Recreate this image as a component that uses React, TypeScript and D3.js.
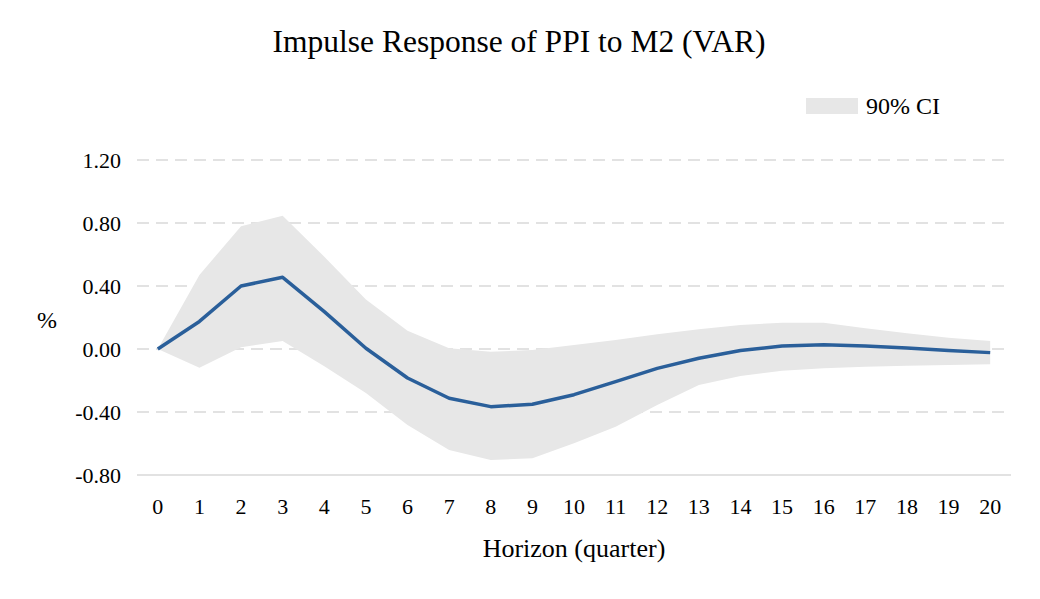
import React from "react";
import * as d3 from "d3";

// horizon 0..20 quarters
const horizons = d3.range(0, 21);
const response = [0.0, 0.175, 0.4, 0.455, 0.237, 0.005, -0.184, -0.313, -0.366, -0.351, -0.29, -0.207, -0.123, -0.059, -0.01, 0.019, 0.027, 0.019, 0.006, -0.01, -0.023];
const ciUpper = [0.0, 0.47, 0.78, 0.846, 0.586, 0.315, 0.116, 0.004, -0.017, -0.006, 0.025, 0.057, 0.093, 0.125, 0.152, 0.167, 0.167, 0.131, 0.1, 0.072, 0.051];
const ciLower = [0.0, -0.119, 0.011, 0.051, -0.11, -0.28, -0.483, -0.641, -0.705, -0.694, -0.599, -0.493, -0.356, -0.229, -0.171, -0.138, -0.123, -0.112, -0.106, -0.102, -0.097];
const yTicks = [-0.8, -0.4, 0, 0.4, 0.8, 1.2];

const W = 1040;
const H = 599;
const font = "'Liberation Serif', 'Times New Roman', serif";

export default function App() {
  const x = d3.scalePoint<number>().domain(horizons).range([137, 1011]).padding(0.5);
  const y = d3.scaleLinear().domain([-0.8, 1.2]).range([475, 160]);

  const band = d3
    .area<number>()
    .x((d) => x(d) as number)
    .y0((d) => y(ciLower[d]))
    .y1((d) => y(ciUpper[d]));

  const line = d3
    .line<number>()
    .x((d) => x(d) as number)
    .y((d) => y(response[d]));

  return (
    <svg width={W} height={H} style={{ position: "absolute", left: 0, top: 0, background: "#fff" }} fontFamily={font}>
      <text x={519} y={52} textAnchor="middle" fontSize={31.5} fill="#000">
        Impulse Response of PPI to M2 (VAR)
      </text>

      {/* legend */}
      <rect x={806} y={98} width={52} height={16} fill="#e7e7e7" />
      <text x={866} y={114} fontSize={24} fill="#000">90% CI</text>

      {/* grid */}
      {yTicks.map((t) => (
        <g key={t}>
          <line
            x1={137}
            x2={1011}
            y1={y(t)}
            y2={y(t)}
            stroke="#d9d9d9"
            strokeWidth={1.5}
            strokeDasharray={t === -0.8 ? undefined : "12 7"}
          />
          <text x={121} y={y(t) + 7.5} textAnchor="end" fontSize={22} fill="#000">
            {t.toFixed(2)}
          </text>
        </g>
      ))}

      <path d={band(horizons) ?? ""} fill="#e7e7e7" />
      <path d={line(horizons) ?? ""} fill="none" stroke="#2a5f9a" strokeWidth={3.5} strokeLinejoin="round" />

      {horizons.map((h) => (
        <text key={h} x={x(h)} y={514} textAnchor="middle" fontSize={22} fill="#000">
          {h}
        </text>
      ))}

      <text x={47} y={328} textAnchor="middle" fontSize={24} fill="#000">%</text>
      <text x={574} y={557} textAnchor="middle" fontSize={26} fill="#000">
        Horizon (quarter)
      </text>
    </svg>
  );
}
